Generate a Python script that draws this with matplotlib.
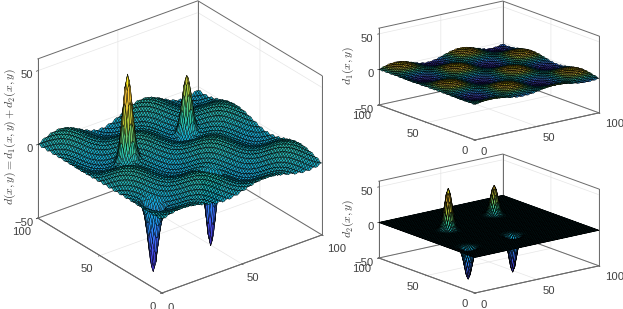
import numpy as np
import matplotlib
matplotlib.use("Agg")
import matplotlib.pyplot as plt
from matplotlib.colors import LinearSegmentedColormap, Normalize
from mpl_toolkits.mplot3d import proj3d

plt.rcParams['font.family'] = ['Liberation Sans', 'DejaVu Sans']
plt.rcParams['mathtext.fontset'] = 'cm'

# ---- values ----
grid_x = list(range(0, 101))
grid_y = list(range(0, 101))
axis_ticks = [0, 50, 100]
z_ticks = [-50, 0, 50]
z_limits = [-50, 58]

# long wave: half a cycle of 26 grid steps (unit amplitude)
long_half = [0, .121, .239, .355, .465, .568, .663, .749, .823, .885, .935, .971, .993,
             1, .993, .971, .935, .885, .823, .749, .663, .568, .465, .355, .239, .121]
long_amplitude = 6.0
# short ripple across the diagonal: two crests in 9 grid steps
ripple_cycle = [1.0, 0.17, -0.94, -0.5, 0.77, 0.77, -0.5, -0.94, 0.17]
ripple_amplitude = 0.62

# bumps of d2
peak_shape = [.004, .014, .044, .114, .249, .458, .707, .917, 1,
              .917, .707, .458, .249, .114, .044, .014, .004]
peak_x = [25, 69, 10, 49]
peak_y = [60, 69, 20, 24]
peak_h = [58, 41, -44, -51]

long_cycle = np.array(long_half + [-v for v in long_half])
wave_x = np.resize(long_cycle, len(grid_x))
wave_y = np.resize(-np.roll(long_cycle, 4), len(grid_y))
rip_diag = np.resize(ripple_cycle, len(grid_x) + len(grid_y) - 1)
ii, jj = np.indices((len(grid_y), len(grid_x)))

d1 = long_amplitude * np.outer(wave_y, wave_x) + ripple_amplitude * rip_diag[ii + jj]
d2 = np.zeros_like(d1)
stamp = np.outer(peak_shape, peak_shape)
half = len(peak_shape) // 2
for px, py, ph in zip(peak_x, peak_y, peak_h):
    d2[py - half:py + half + 1, px - half:px + half + 1] += ph * stamp
d = d1 + d2

parula = LinearSegmentedColormap.from_list("parula", [
    (.2422, .1504, .6603), (.2810, .3228, .9579), (.1786, .5289, .9682), (.0689, .6948, .8394),
    (.2161, .7843, .5923), (.6720, .7793, .2227), (.9970, .7659, .2199), (.9769, .9839, .0805)])

W, H = 623, 309
fig = plt.figure(figsize=(W / 100, H / 100), dpi=100)
fig.patch.set_facecolor('white')
X, Y = np.meshgrid(grid_x, grid_y)
BOX = '#6a6a6a'
TXT = '#404040'


def place(ax, front, right):
    """Scale and shift the square 3D axes so floor corners land on given pixels."""
    M = ax.get_proj()
    zb = z_limits[0]
    pf = proj3d.proj_transform(0, 0, zb, M)[:2]
    pr = proj3d.proj_transform(100, 0, zb, M)[:2]
    s0 = 200.0
    ax.set_position([0, 0, s0 / W, s0 / H])
    ax.apply_aspect()
    a, b = ax.transData.transform([pf, pr])
    s = s0 * (right[0] - front[0]) / (b[0] - a[0])
    ax.set_position([0, 0, s / W, s / H])
    ax.apply_aspect()
    a = ax.transData.transform(pf)
    ax.set_position([(front[0] - a[0]) / W, ((H - front[1]) - a[1]) / H, s / W, s / H])


def panel(Z, el, zaspect, front, right, lw, label, lsize, lpad, pads):
    ax = fig.add_subplot(projection='3d', computed_zorder=False)
    ax.set_proj_type('ortho')
    ax.view_init(elev=el, azim=-127.8)
    ax.set_xlim(0, 100, view_margin=0)
    ax.set_ylim(0, 100, view_margin=0)
    ax.set_zlim(z_limits[0], z_limits[1], view_margin=0)
    ax.set_box_aspect((1, 1, zaspect))
    ax.patch.set_alpha(0)
    zb, zt = z_limits
    for a in (ax.xaxis, ax.yaxis, ax.zaxis):
        a.pane.set_facecolor((1, 1, 1, 0))
        a.pane.set_edgecolor((1, 1, 1, 0))
        a.line.set_color(BOX)
        a.line.set_linewidth(0.7)
        a._axinfo['grid'].update(color='#e6e6e6', linewidth=0.5)
        a._axinfo['tick'].update(inward_factor=0.12, outward_factor=0.0, linewidth={True: .5, False: .5})
    ax.set_xticks(axis_ticks)
    ax.set_yticks(axis_ticks)
    ax.set_zticks(z_ticks)
    ax.tick_params(axis='both', labelsize=8.1, colors=TXT)
    ax.tick_params(axis='x', pad=pads[0])
    ax.tick_params(axis='y', pad=pads[1])
    ax.tick_params(axis='z', pad=pads[2])
    plt.setp(ax.get_xticklabels(), ha='left')
    plt.setp(ax.get_yticklabels(), ha='right')
    plt.setp(ax.get_zticklabels(), ha='right')
    ax.zaxis.set_rotate_label(False)
    ax.set_zlabel(label, rotation=90, fontsize=lsize, color=TXT, labelpad=lpad)
    # back box edges
    box = dict(color=BOX, lw=0.7, zorder=1)
    ax.plot([0, 100, 100], [100, 100, 0], [zt, zt, zt], **box)
    ax.plot([0, 100, 100], [100, 100, 0], [zb, zb, zb], **box)
    ax.plot([0, 0, 100], [100, 0, 0], [zb, zb, zb], **box)
    for cx, cy in ((0, 100), (100, 100), (100, 0)):
        ax.plot([cx, cx], [cy, cy], [zb, zt], **box)
    ax.plot_surface(X, Y, Z, rstride=1, cstride=1, cmap=parula,
                    norm=Normalize(Z.min(), Z.max()), edgecolor='k', linewidth=lw,
                    antialiased=True, shade=False, zorder=2)
    place(ax, front, right)
    return ax


panel(d, 27.9, 0.89, (162, 293), (322, 237), 0.27,
      r'$d(x,y) = d_1(x,y) + d_2(x,y)$', 8.5, -9, (-3, -3, -6))
panel(d1, 16.4, 0.51, (475, 140), (599, 113), 0.28,
      r'$d_1(x,y)$', 8.5, -9, (-3, -3, -6))
panel(d2, 16.4, 0.51, (475, 293), (599, 267), 0.45,
      r'$d_2(x,y)$', 8.5, -9, (-3, -3, -6))

fig.savefig('out.png', dpi=100)
